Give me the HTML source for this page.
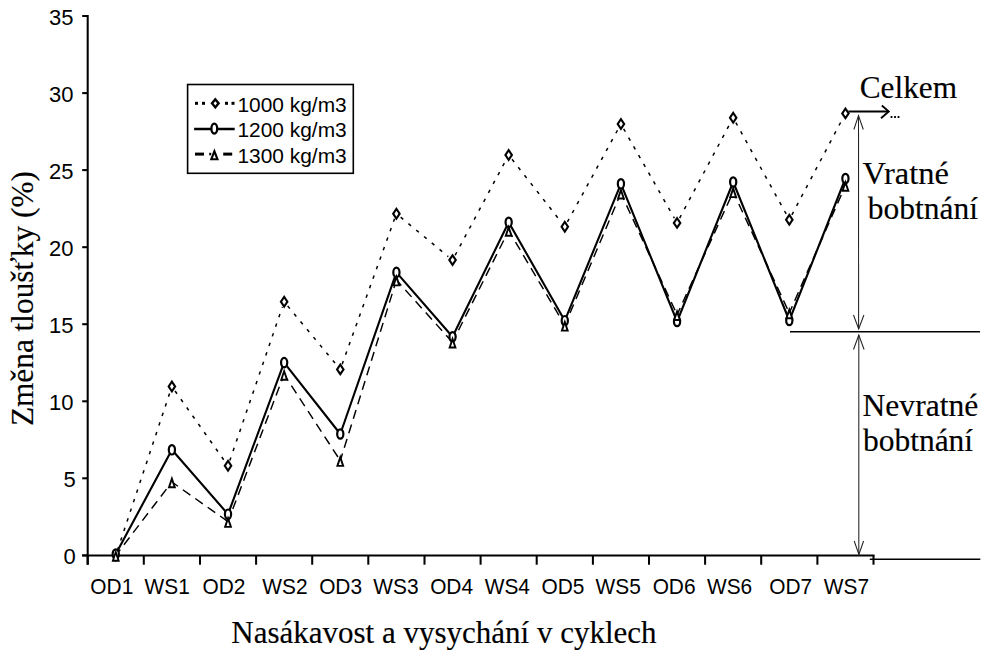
<!DOCTYPE html><html><head><meta charset="utf-8"><style>html,body{margin:0;padding:0;background:#fff;width:991px;height:660px;overflow:hidden}svg{display:block}.sans{font-family:"Liberation Sans",sans-serif}.serif{font-family:"Liberation Serif",serif}</style></head><body>
<svg width="991" height="660" viewBox="0 0 991 660">
<g stroke="#000" stroke-width="2.05" fill="none">
<line x1="87.7" y1="15.0" x2="87.7" y2="564.7"/>
<line x1="82.2" y1="555.4" x2="874.5" y2="555.4"/>
<line x1="82.2" y1="555.4" x2="87.7" y2="555.4"/>
<line x1="82.2" y1="478.3" x2="87.7" y2="478.3"/>
<line x1="82.2" y1="401.3" x2="87.7" y2="401.3"/>
<line x1="82.2" y1="324.2" x2="87.7" y2="324.2"/>
<line x1="82.2" y1="247.2" x2="87.7" y2="247.2"/>
<line x1="82.2" y1="170.1" x2="87.7" y2="170.1"/>
<line x1="82.2" y1="93.1" x2="87.7" y2="93.1"/>
<line x1="82.2" y1="16.0" x2="87.7" y2="16.0"/>
<line x1="87.7" y1="555.4" x2="87.7" y2="564.7"/>
<line x1="143.8" y1="555.4" x2="143.8" y2="564.7"/>
<line x1="200.0" y1="555.4" x2="200.0" y2="564.7"/>
<line x1="256.1" y1="555.4" x2="256.1" y2="564.7"/>
<line x1="312.2" y1="555.4" x2="312.2" y2="564.7"/>
<line x1="368.3" y1="555.4" x2="368.3" y2="564.7"/>
<line x1="424.5" y1="555.4" x2="424.5" y2="564.7"/>
<line x1="480.6" y1="555.4" x2="480.6" y2="564.7"/>
<line x1="536.7" y1="555.4" x2="536.7" y2="564.7"/>
<line x1="592.9" y1="555.4" x2="592.9" y2="564.7"/>
<line x1="649.0" y1="555.4" x2="649.0" y2="564.7"/>
<line x1="705.1" y1="555.4" x2="705.1" y2="564.7"/>
<line x1="761.2" y1="555.4" x2="761.2" y2="564.7"/>
<line x1="817.4" y1="555.4" x2="817.4" y2="564.7"/>
<line x1="873.5" y1="555.4" x2="873.5" y2="564.7"/>
</g>
<g class="sans" font-size="22" fill="#000" text-anchor="end">
<text x="75.8" y="564.4">0</text>
<text x="75.8" y="487.3">5</text>
<text x="73.5" y="410.3">10</text>
<text x="73.5" y="333.2">15</text>
<text x="73.5" y="256.2">20</text>
<text x="73.5" y="179.1">25</text>
<text x="73.5" y="102.1">30</text>
<text x="73.5" y="25.0">35</text>
</g>
<g class="sans" font-size="22" fill="#000" text-anchor="middle">
<text transform="translate(111.8,594) scale(0.95,1)">OD1</text>
<text transform="translate(167.2,594) scale(0.95,1)">WS1</text>
<text transform="translate(223.9,594) scale(0.95,1)">OD2</text>
<text transform="translate(285.0,594) scale(0.95,1)">WS2</text>
<text transform="translate(340.6,594) scale(0.95,1)">OD3</text>
<text transform="translate(395.9,594) scale(0.95,1)">WS3</text>
<text transform="translate(451.6,594) scale(0.95,1)">OD4</text>
<text transform="translate(507.3,594) scale(0.95,1)">WS4</text>
<text transform="translate(563.0,594) scale(0.95,1)">OD5</text>
<text transform="translate(618.2,594) scale(0.95,1)">WS5</text>
<text transform="translate(674.1,594) scale(0.95,1)">OD6</text>
<text transform="translate(729.6,594) scale(0.95,1)">WS6</text>
<text transform="translate(790.7,594) scale(0.95,1)">OD7</text>
<text transform="translate(846.5,594) scale(0.95,1)">WS7</text>
</g>
<line x1="117.50" y1="550.18" x2="170.16" y2="391.72" stroke="#000" stroke-width="1.5" stroke-dasharray="3.4 6.7"/>
<line x1="175.07" y1="390.99" x2="224.84" y2="461.31" stroke="#000" stroke-width="1.5" stroke-dasharray="3.4 6.7"/>
<line x1="229.80" y1="460.60" x2="282.37" y2="307.00" stroke="#000" stroke-width="1.5" stroke-dasharray="3.4 6.7"/>
<line x1="287.66" y1="306.03" x2="336.77" y2="365.17" stroke="#000" stroke-width="1.5" stroke-dasharray="3.4 6.7"/>
<line x1="342.14" y1="364.23" x2="394.54" y2="218.87" stroke="#000" stroke-width="1.5" stroke-dasharray="3.4 6.7"/>
<line x1="400.65" y1="217.20" x2="448.30" y2="256.60" stroke="#000" stroke-width="1.5" stroke-dasharray="3.4 6.7"/>
<line x1="455.13" y1="255.25" x2="506.07" y2="159.85" stroke="#000" stroke-width="1.5" stroke-dasharray="3.4 6.7"/>
<line x1="512.05" y1="159.33" x2="561.40" y2="222.37" stroke="#000" stroke-width="1.5" stroke-dasharray="3.4 6.7"/>
<line x1="567.43" y1="221.87" x2="618.28" y2="128.83" stroke="#000" stroke-width="1.5" stroke-dasharray="3.4 6.7"/>
<line x1="623.64" y1="128.78" x2="674.34" y2="218.12" stroke="#000" stroke-width="1.5" stroke-dasharray="3.4 6.7"/>
<line x1="679.64" y1="218.05" x2="730.59" y2="122.55" stroke="#000" stroke-width="1.5" stroke-dasharray="3.4 6.7"/>
<line x1="735.83" y1="122.52" x2="786.66" y2="214.88" stroke="#000" stroke-width="1.5" stroke-dasharray="3.4 6.7"/>
<line x1="791.88" y1="214.84" x2="842.87" y2="118.26" stroke="#000" stroke-width="1.5" stroke-dasharray="3.4 6.7"/>
<line x1="115.8" y1="555.4" x2="171.9" y2="482.0" stroke="#000" stroke-width="1.45" stroke-dasharray="9.2 6" stroke-dashoffset="1.8"/>
<line x1="171.9" y1="482.0" x2="228.0" y2="521.6" stroke="#000" stroke-width="1.45" stroke-dasharray="9.2 6" stroke-dashoffset="1.8"/>
<line x1="228.0" y1="521.6" x2="284.1" y2="374.4" stroke="#000" stroke-width="1.45" stroke-dasharray="9.2 6" stroke-dashoffset="1.8"/>
<line x1="284.1" y1="374.4" x2="340.3" y2="460.6" stroke="#000" stroke-width="1.45" stroke-dasharray="9.2 6" stroke-dashoffset="1.8"/>
<line x1="340.3" y1="460.6" x2="396.4" y2="280.1" stroke="#000" stroke-width="1.45" stroke-dasharray="9.2 6" stroke-dashoffset="1.8"/>
<line x1="396.4" y1="280.1" x2="452.5" y2="342.2" stroke="#000" stroke-width="1.45" stroke-dasharray="9.2 6" stroke-dashoffset="1.8"/>
<line x1="452.5" y1="342.2" x2="508.7" y2="230.5" stroke="#000" stroke-width="1.45" stroke-dasharray="9.2 6" stroke-dashoffset="1.8"/>
<line x1="508.7" y1="230.5" x2="564.8" y2="325.3" stroke="#000" stroke-width="1.45" stroke-dasharray="9.2 6" stroke-dashoffset="1.8"/>
<line x1="564.8" y1="325.3" x2="620.9" y2="193.2" stroke="#000" stroke-width="1.45" stroke-dasharray="9.2 6" stroke-dashoffset="1.8"/>
<line x1="620.9" y1="193.2" x2="677.1" y2="314.7" stroke="#000" stroke-width="1.45" stroke-dasharray="9.2 6" stroke-dashoffset="1.8"/>
<line x1="677.1" y1="314.7" x2="733.2" y2="191.8" stroke="#000" stroke-width="1.45" stroke-dasharray="9.2 6" stroke-dashoffset="1.8"/>
<line x1="733.2" y1="191.8" x2="789.3" y2="313.0" stroke="#000" stroke-width="1.45" stroke-dasharray="9.2 6" stroke-dashoffset="1.8"/>
<line x1="789.3" y1="313.0" x2="845.4" y2="185.5" stroke="#000" stroke-width="1.45" stroke-dasharray="9.2 6" stroke-dashoffset="1.8"/>
<polyline points="115.8,554.0 171.9,449.8 228.0,514.2 284.1,362.6 340.3,434.0 396.4,272.4 452.5,336.8 508.7,222.3 564.8,320.7 620.9,183.8 677.1,321.5 733.2,182.0 789.3,320.5 845.4,178.5" fill="none" stroke="#000" stroke-width="2.1" stroke-linejoin="round"/>
<path d="M115.76 548.70L120.26 555.40L115.76 562.10L111.26 555.40Z" fill="#000"/><path d="M115.76 552.47L117.73 555.40L115.76 558.33L113.79 555.40Z" fill="#fff"/>
<path d="M171.89 379.80L176.39 386.50L171.89 393.20L167.39 386.50Z" fill="#000"/><path d="M171.89 383.57L173.86 386.50L171.89 389.43L169.92 386.50Z" fill="#fff"/>
<path d="M228.02 459.10L232.52 465.80L228.02 472.50L223.52 465.80Z" fill="#000"/><path d="M228.02 462.87L229.99 465.80L228.02 468.73L226.05 465.80Z" fill="#fff"/>
<path d="M284.15 295.10L288.65 301.80L284.15 308.50L279.65 301.80Z" fill="#000"/><path d="M284.15 298.87L286.12 301.80L284.15 304.73L282.18 301.80Z" fill="#fff"/>
<path d="M340.28 362.70L344.78 369.40L340.28 376.10L335.78 369.40Z" fill="#000"/><path d="M340.28 366.47L342.25 369.40L340.28 372.33L338.31 369.40Z" fill="#fff"/>
<path d="M396.41 207.00L400.91 213.70L396.41 220.40L391.91 213.70Z" fill="#000"/><path d="M396.41 210.77L398.38 213.70L396.41 216.63L394.44 213.70Z" fill="#fff"/>
<path d="M452.54 253.40L457.04 260.10L452.54 266.80L448.04 260.10Z" fill="#000"/><path d="M452.54 257.17L454.51 260.10L452.54 263.03L450.57 260.10Z" fill="#fff"/>
<path d="M508.66 148.30L513.16 155.00L508.66 161.70L504.16 155.00Z" fill="#000"/><path d="M508.66 152.07L510.63 155.00L508.66 157.93L506.69 155.00Z" fill="#fff"/>
<path d="M564.79 220.00L569.29 226.70L564.79 233.40L560.29 226.70Z" fill="#000"/><path d="M564.79 223.77L566.76 226.70L564.79 229.63L562.82 226.70Z" fill="#fff"/>
<path d="M620.92 117.30L625.42 124.00L620.92 130.70L616.42 124.00Z" fill="#000"/><path d="M620.92 121.07L622.89 124.00L620.92 126.93L618.95 124.00Z" fill="#fff"/>
<path d="M677.05 216.20L681.55 222.90L677.05 229.60L672.55 222.90Z" fill="#000"/><path d="M677.05 219.97L679.02 222.90L677.05 225.83L675.08 222.90Z" fill="#fff"/>
<path d="M733.18 111.00L737.68 117.70L733.18 124.40L728.68 117.70Z" fill="#000"/><path d="M733.18 114.77L735.15 117.70L733.18 120.63L731.21 117.70Z" fill="#fff"/>
<path d="M789.31 213.00L793.81 219.70L789.31 226.40L784.81 219.70Z" fill="#000"/><path d="M789.31 216.77L791.28 219.70L789.31 222.63L787.34 219.70Z" fill="#fff"/>
<path d="M845.44 106.70L849.94 113.40L845.44 120.10L840.94 113.40Z" fill="#000"/><path d="M845.44 110.47L847.41 113.40L845.44 116.33L843.47 113.40Z" fill="#fff"/>
<ellipse cx="115.76" cy="554.00" rx="3.1" ry="4.7" fill="#fff" stroke="#000" stroke-width="2.2"/>
<ellipse cx="171.89" cy="449.80" rx="3.1" ry="4.7" fill="#fff" stroke="#000" stroke-width="2.2"/>
<ellipse cx="228.02" cy="514.20" rx="3.1" ry="4.7" fill="#fff" stroke="#000" stroke-width="2.2"/>
<ellipse cx="284.15" cy="362.60" rx="3.1" ry="4.7" fill="#fff" stroke="#000" stroke-width="2.2"/>
<ellipse cx="340.28" cy="434.00" rx="3.1" ry="4.7" fill="#fff" stroke="#000" stroke-width="2.2"/>
<ellipse cx="396.41" cy="272.40" rx="3.1" ry="4.7" fill="#fff" stroke="#000" stroke-width="2.2"/>
<ellipse cx="452.54" cy="336.80" rx="3.1" ry="4.7" fill="#fff" stroke="#000" stroke-width="2.2"/>
<ellipse cx="508.66" cy="222.30" rx="3.1" ry="4.7" fill="#fff" stroke="#000" stroke-width="2.2"/>
<ellipse cx="564.79" cy="320.70" rx="3.1" ry="4.7" fill="#fff" stroke="#000" stroke-width="2.2"/>
<ellipse cx="620.92" cy="183.80" rx="3.1" ry="4.7" fill="#fff" stroke="#000" stroke-width="2.2"/>
<ellipse cx="677.05" cy="321.50" rx="3.1" ry="4.7" fill="#fff" stroke="#000" stroke-width="2.2"/>
<ellipse cx="733.18" cy="182.00" rx="3.1" ry="4.7" fill="#fff" stroke="#000" stroke-width="2.2"/>
<ellipse cx="789.31" cy="320.50" rx="3.1" ry="4.7" fill="#fff" stroke="#000" stroke-width="2.2"/>
<ellipse cx="845.44" cy="178.50" rx="3.1" ry="4.7" fill="#fff" stroke="#000" stroke-width="2.2"/>
<path d="M115.76 549.15L119.96 561.65L111.56 561.65Z" fill="#000"/><path d="M115.76 555.12L117.32 559.75L114.21 559.75Z" fill="#fff"/>
<path d="M171.89 475.75L176.09 488.25L167.69 488.25Z" fill="#000"/><path d="M171.89 481.72L173.45 486.35L170.34 486.35Z" fill="#fff"/>
<path d="M228.02 515.35L232.22 527.85L223.82 527.85Z" fill="#000"/><path d="M228.02 521.32L229.58 525.95L226.46 525.95Z" fill="#fff"/>
<path d="M284.15 368.15L288.35 380.65L279.95 380.65Z" fill="#000"/><path d="M284.15 374.12L285.71 378.75L282.59 378.75Z" fill="#fff"/>
<path d="M340.28 454.35L344.48 466.85L336.08 466.85Z" fill="#000"/><path d="M340.28 460.32L341.84 464.95L338.72 464.95Z" fill="#fff"/>
<path d="M396.41 273.85L400.61 286.35L392.21 286.35Z" fill="#000"/><path d="M396.41 279.82L397.96 284.45L394.85 284.45Z" fill="#fff"/>
<path d="M452.54 335.95L456.74 348.45L448.34 348.45Z" fill="#000"/><path d="M452.54 341.92L454.09 346.55L450.98 346.55Z" fill="#fff"/>
<path d="M508.66 224.25L512.86 236.75L504.46 236.75Z" fill="#000"/><path d="M508.66 230.22L510.22 234.85L507.11 234.85Z" fill="#fff"/>
<path d="M564.79 319.05L568.99 331.55L560.59 331.55Z" fill="#000"/><path d="M564.79 325.02L566.35 329.65L563.24 329.65Z" fill="#fff"/>
<path d="M620.92 186.95L625.12 199.45L616.72 199.45Z" fill="#000"/><path d="M620.92 192.92L622.48 197.55L619.36 197.55Z" fill="#fff"/>
<path d="M677.05 308.45L681.25 320.95L672.85 320.95Z" fill="#000"/><path d="M677.05 314.42L678.61 319.05L675.49 319.05Z" fill="#fff"/>
<path d="M733.18 185.55L737.38 198.05L728.98 198.05Z" fill="#000"/><path d="M733.18 191.52L734.74 196.15L731.62 196.15Z" fill="#fff"/>
<path d="M789.31 306.75L793.51 319.25L785.11 319.25Z" fill="#000"/><path d="M789.31 312.72L790.86 317.35L787.75 317.35Z" fill="#fff"/>
<path d="M845.44 179.25L849.64 191.75L841.24 191.75Z" fill="#000"/><path d="M845.44 185.22L846.99 189.85L843.88 189.85Z" fill="#fff"/>
<rect x="187.6" y="84.5" width="165.7" height="88.8" fill="#fff" stroke="#000" stroke-width="1.6"/>
<g fill="#000">
<rect x="195" y="101.8" width="3" height="3"/>
<rect x="202" y="101.8" width="3" height="3"/>
<rect x="225" y="101.8" width="3" height="3"/>
<rect x="231.5" y="101.8" width="3" height="3"/>
<rect x="195" y="152.6" width="9" height="3"/><rect x="223.2" y="152.6" width="9" height="3"/><rect x="209.2" y="152.8" width="2" height="2.5"/>
</g>
<line x1="194.1" y1="129" x2="234.7" y2="129" stroke="#000" stroke-width="2.6"/>
<path d="M215.30 97.45L220.15 103.30L215.30 109.15L210.45 103.30Z" fill="#000"/><path d="M215.30 101.21L217.03 103.30L215.30 105.39L213.57 103.30Z" fill="#fff"/>
<ellipse cx="214.30" cy="128.60" rx="2.9" ry="5" fill="#fff" stroke="#000" stroke-width="2.3"/>
<path d="M214.40 148.30L219.00 160.30L209.80 160.30Z" fill="#000"/><path d="M214.40 154.17L215.95 158.20L212.85 158.20Z" fill="#fff"/>
<g class="sans" font-size="20.9" fill="#000">
<text x="237.5" y="111.8">1000 kg/m3</text>
<text x="237.5" y="137.2">1200 kg/m3</text>
<text x="237.5" y="162.8">1300 kg/m3</text>
</g>
<g stroke="#000" stroke-width="1.5" fill="none">
<line x1="848.4" y1="111.5" x2="888.6" y2="111.5" stroke-width="2"/>
<path d="M881.8 105.5 L888.8 111.5 L881 118.3" stroke-width="1.8"/>
<line x1="790" y1="331.7" x2="980" y2="331.7"/>
<line x1="869.8" y1="559.3" x2="980.3" y2="559.3"/>
</g>
<g stroke="#222" stroke-width="1.05" fill="none">
<line x1="858.5" y1="115" x2="858.6" y2="329"/>
<path d="M853.9 129.5 L858.5 115.6 L863.3 129.5"/>
<path d="M853.5 315 L858.7 329 L863.9 315"/>
<line x1="858.8" y1="335" x2="858.8" y2="554.4"/>
<path d="M853.5 349.5 L858.8 335 L864.1 349.5"/>
<path d="M854.2 541 L858.9 554.4 L863.6 541"/>
</g>
<g fill="#000"><rect x="890.6" y="116" width="1.8" height="2"/><rect x="894.1" y="116" width="1.8" height="2"/><rect x="897.6" y="116" width="1.8" height="2"/></g>
<g class="serif" fill="#000" stroke="#000" stroke-width="0.15">
<text x="859.7" y="97.9" font-size="31.3">Celkem</text>
<text x="862.5" y="183.6" font-size="32.5">Vratné</text>
<text x="867.7" y="219.3" font-size="31.5">bobtnání</text>
<text x="862.5" y="416" font-size="31.6">Nevratné</text>
<text x="862.9" y="451.4" font-size="31.5">bobtnání</text>
<text x="231.3" y="642.9" font-size="31">Nasákavost a vysychání v cyklech</text>
<text transform="translate(32.6,426.1) rotate(-90)" font-size="31.3">Změna tloušťky (%)</text>
</g>
</svg></body></html>
